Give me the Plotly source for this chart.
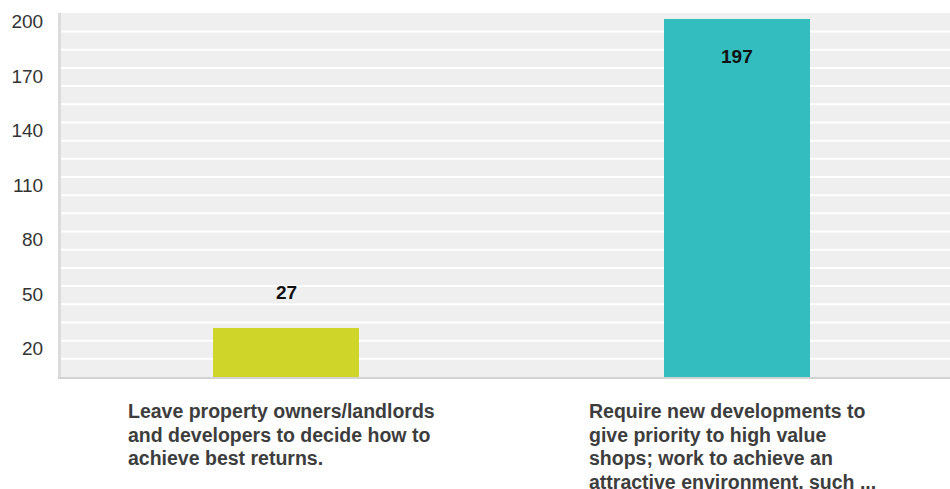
import plotly.graph_objects as go

# ---- data ----
categories = [
    ["Leave property owners/landlords",
     "and developers to decide how to",
     "achieve best returns."],
    ["Require new developments to",
     "give priority to high value",
     "shops; work to achieve an",
     "attractive environment, such ..."],
]
values = [27, 197]
bar_colors = ["#d0d52a", "#33bdbf"]
y_tick_labels = [20, 50, 80, 110, 140, 170, 200]
grid_step = 10
y_max = 200

FONT = "Liberation Sans, Arial, Helvetica, sans-serif"
CAT_SIZE = 19.5
LINE_H = 23.5

# Arial/Liberation Sans Bold advance widths (per 1000 em)
_W = {" ": 278, ",": 278, ".": 278, "/": 278, ";": 333,
      "a": 556, "b": 611, "c": 556, "d": 611, "e": 556, "f": 333, "g": 611,
      "h": 611, "i": 278, "j": 278, "k": 556, "l": 278, "m": 889, "n": 611,
      "o": 611, "p": 611, "q": 611, "r": 389, "s": 556, "t": 333, "u": 611,
      "v": 556, "w": 778, "x": 556, "y": 556, "z": 500,
      "L": 611, "R": 722, "A": 722}


def text_width(s, size):
    return sum(_W.get(ch, 600) for ch in s) * size / 1000.0


fig = go.Figure()
fig.add_trace(go.Bar(
    x=list(range(len(values))),
    y=values,
    marker=dict(color=bar_colors, line=dict(width=0)),
    width=0.324,
    hoverinfo="skip",
))

# horizontal grid lines every grid_step (below the top edge)
for g in range(grid_step, y_max, grid_step):
    fig.add_hline(y=g, line_color="white", line_width=2, layer="below")

# value labels
for i, v in enumerate(values):
    inside = v > 0.8 * y_max
    fig.add_annotation(
        x=i, y=v, xref="x", yref="y",
        text=f"<b>{v}</b>", showarrow=False,
        yanchor="middle", yshift=-38 if inside else 35,
        font=dict(family=FONT, size=19, color="#111111"),
    )

# category labels: block centred under the bar, lines left-aligned
for i, lines in enumerate(categories):
    block_w = max(text_width(ln, CAT_SIZE) for ln in lines)
    for k, ln in enumerate(lines):
        fig.add_annotation(
            x=i, y=0, xref="x", yref="paper",
            text=f"<b>{ln}</b>", showarrow=False, align="left",
            xanchor="left", yanchor="middle",
            xshift=-block_w / 2 - 7, yshift=-(34 + k * LINE_H),
            font=dict(family=FONT, size=CAT_SIZE, color="#3d3d3d"),
        )

fig.update_layout(
    width=950, height=489,
    margin=dict(l=61, r=0, t=13, b=112),
    paper_bgcolor="white",
    plot_bgcolor="#efefef",
    showlegend=False,
    bargap=0,
    xaxis=dict(
        type="linear",
        range=[-0.499, 1.472],
        showticklabels=False, showgrid=False, zeroline=False,
        showline=True, linecolor="#d2d2d2", linewidth=2,
        fixedrange=True,
    ),
    yaxis=dict(
        range=[0, y_max + 0.2],
        tickmode="array", tickvals=y_tick_labels,
        showgrid=False, zeroline=False,
        showline=True, linecolor="#dcdcdc", linewidth=3,
        ticks="outside", ticklen=11, tickcolor="rgba(0,0,0,0)",
        ticklabelshift=8,
        tickfont=dict(family=FONT, size=19, color="#333333"),
        fixedrange=True,
    ),
)

fig.write_html("out.html", config={"displayModeBar": False},
               post_script="document.body.style.margin='0';")
